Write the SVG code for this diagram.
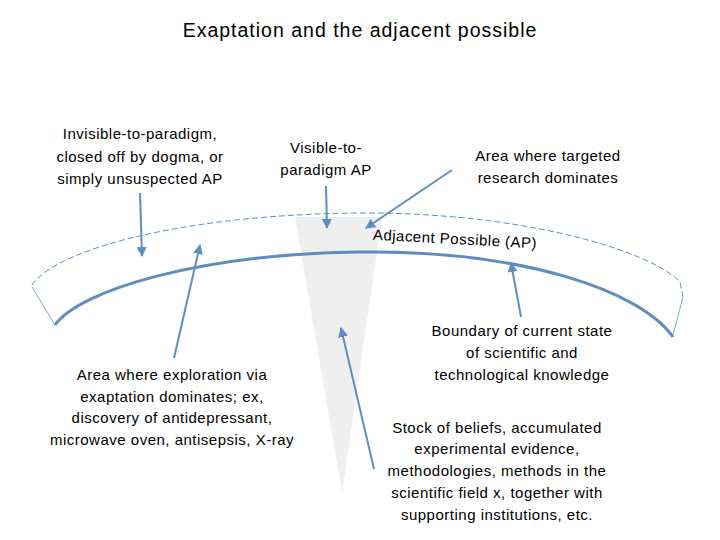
<svg xmlns="http://www.w3.org/2000/svg" width="720" height="540" viewBox="0 0 720 540">
<style>
text{font-family:"Liberation Sans",Arial,sans-serif;font-size:15px;letter-spacing:0.5px;fill:#000;text-anchor:middle}
.title{font-size:19.5px;letter-spacing:1px}
.arr{stroke:#5f8dc0;stroke-width:2;fill:none;marker-end:url(#ah)}
.band{stroke:#5f8dc0;fill:none}
</style>
<defs>
<marker id="ah" viewBox="0 0 10 10" refX="9" refY="5" markerWidth="5" markerHeight="5" orient="auto" markerUnits="strokeWidth">
<path d="M0,0 L10,5 L0,10 Z" fill="#5f8dc0"/>
</marker>
</defs>
<rect width="720" height="540" fill="#fff"/>
<text class="title" x="360" y="37">Exaptation and the adjacent possible</text>
<g id="cone"><polygon points="295,217 382,217 342,493" fill="#efefef"/></g>
<g id="band">
<path class="band" d="M32,285 C60,245 200,214 360,213 C520,212 650,250 680,282 L683,297" stroke-width="1" stroke-dasharray="6,3"/>
<path class="band" d="M32,287 L55,325 M683,297 L673,335" stroke-width="0.8"/>
<path class="band" d="M55,325 C80,290 200,254 360,252 C520,250 640,290 673,337" stroke-width="3"/>
</g>
<g id="connectors">
<line class="arr" x1="140" y1="193" x2="142" y2="256"/>
<line class="arr" x1="326" y1="186" x2="327" y2="228"/>
<line class="arr" x1="452" y1="170" x2="366" y2="228"/>
<line class="arr" x1="174" y1="358" x2="200" y2="245"/>
<line class="arr" x1="374" y1="469" x2="341" y2="328"/>
<line class="arr" x1="521" y1="317" x2="511" y2="263"/>
</g>
<g id="invisible"><text x="140" y="139">Invisible-to-paradigm,</text><text x="140" y="162">closed off by dogma, or</text><text x="140" y="184">simply unsuspected AP</text></g>
<g id="visible"><text x="326" y="153">Visible-to-</text><text x="326" y="175">paradigm AP</text></g>
<g id="targeted"><text x="548" y="161">Area where targeted</text><text x="548" y="183">research dominates</text></g>
<g id="ap"><text x="455" y="244" transform="rotate(3 455 239)">Adjacent Possible (AP)</text></g>
<g id="boundary"><text x="522" y="336">Boundary of current state</text><text x="522" y="358">of scientific and</text><text x="522" y="380">technological knowledge</text></g>
<g id="exploration"><text x="172" y="380">Area where exploration via</text><text x="172" y="402">exaptation dominates; ex,</text><text x="172" y="423">discovery of antidepressant,</text><text x="172" y="445">microwave oven, antisepsis, X-ray</text></g>
<g id="stock"><text x="497" y="433">Stock of beliefs, accumulated</text><text x="497" y="454">experimental evidence,</text><text x="497" y="476">methodologies, methods in the</text><text x="497" y="498">scientific field x, together with</text><text x="497" y="520">supporting institutions, etc.</text></g>
</svg>
